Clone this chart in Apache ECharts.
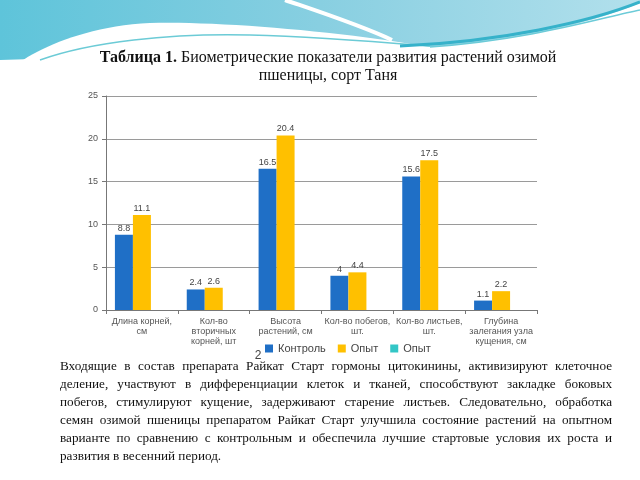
<!DOCTYPE html>
<html><head><meta charset="utf-8">
<script src="https://cdn.jsdelivr.net/npm/echarts@6/dist/echarts.min.js"></script>
<style>html,body{margin:0;padding:0;background:#fff}#c{width:640px;height:480px}</style>
</head><body><div id="c"></div>
<script>
const categories = ['Длина корней,\nсм', 'Кол-во\nвторичных\nкорней, шт', 'Высота\nрастений, см', 'Кол-во побегов,\nшт.', 'Кол-во листьев,\nшт.', 'Глубина\nзалегания узла\nкущения, см'];
const controlValues = [8.8, 2.4, 16.5, 4, 15.6, 1.1];
const opytValues = [11.1, 2.6, 20.4, 4.4, 17.5, 2.2];
const opyt2Values = [];
const seriesNames = ['Контроль', 'Опыт', 'Опыт '];
const yTicks = [0, 5, 10, 15, 20, 25];
const titleLine1Bold = 'Таблица 1.';
const titleLine1 = ' Биометрические показатели развития растений озимой';
const titleLine2 = 'пшеницы, сорт Таня';
const paragraphLines = [
  'Входящие в состав препарата Райкат Старт гормоны цитокинины, активизируют клеточное',
  'деление, участвуют в дифференциации клеток и тканей, способствуют закладке боковых',
  'побегов, стимулируют кущение, задерживают старение листьев. Следовательно, обработка',
  'семян озимой пшеницы препаратом Райкат Старт улучшила состояние растений на опытном',
  'варианте по сравнению с контрольным и обеспечила лучшие стартовые условия их роста и',
  'развития в весенний период.'
];
const pageNumber = '2';

const chart = echarts.init(document.getElementById('c'), null, {renderer: 'canvas'});
const SERIF = '"Liberation Serif", "Times New Roman", serif';
const SANS = '"Liberation Sans", Arial, sans-serif';

// justified paragraph
const mctx = document.createElement('canvas').getContext('2d');
const pFont = 13.2;
mctx.font = pFont + 'px ' + SERIF;
const pLeft = 60, pRight = 612, pTop = 360, pLH = 18;
const paraEls = [];
paragraphLines.forEach((line, i) => {
  const words = line.split(' ');
  const y = pTop + i * pLH;
  const last = i === paragraphLines.length - 1;
  if (last) {
    paraEls.push({type: 'text', x: pLeft, y: y, style: {text: line, font: pFont + 'px ' + SERIF, fill: '#111'}});
    return;
  }
  const widths = words.map(w => mctx.measureText(w).width);
  const total = widths.reduce((a, b) => a + b, 0);
  const gap = (pRight - pLeft - total) / (words.length - 1);
  let x = pLeft;
  words.forEach((w, k) => {
    paraEls.push({type: 'text', x: x, y: y, style: {text: w, font: pFont + 'px ' + SERIF, fill: '#111'}});
    x += widths[k] + gap;
  });
});

// decoration helpers
function bez(p0, c1, c2, p1, n) {
  const pts = [];
  for (let i = 0; i <= n; i++) {
    const t = i / n, u = 1 - t;
    pts.push([
      u*u*u*p0[0] + 3*u*u*t*c1[0] + 3*u*t*t*c2[0] + t*t*t*p1[0],
      u*u*u*p0[1] + 3*u*u*t*c1[1] + 3*u*t*t*c2[1] + t*t*t*p1[1]
    ]);
  }
  return pts;
}
function curve(x1, y1, c1x, c1y, c2x, c2y, x2, y2, color, w) {
  return {type: 'bezierCurve', z: -8, shape: {x1, y1, cpx1: c1x, cpy1: c1y, cpx2: c2x, cpy2: c2y, x2, y2}, style: {fill: null, stroke: color, lineWidth: w}};
}
const bgPts = [[0, 0], [640, 0]].concat(bez([640, 3], [580, 28], [500, 42], [430, 47], 24), [[0, 60]]);
const whitePts = bez([20, 62], [45, 45], [90, 26], [150, 23], 20).concat(bez([150, 23], [220, 21], [350, 32], [440, 49], 24), [[440, 64], [20, 64]]);

const deco = [
  {type: 'polygon', z: -10, shape: {points: bgPts},
   style: {fill: new echarts.graphic.LinearGradient(0, 0, 1, 0, [{offset: 0, color: '#5ec4da'}, {offset: 0.5, color: '#88cfe1'}, {offset: 1, color: '#b2e0ec'}])}},
  {type: 'polygon', z: -9, shape: {points: whitePts}, style: {fill: '#ffffff'}},
  {type: 'rect', z: -9, shape: {x: 0, y: 60, width: 640, height: 6}, style: {fill: '#ffffff'}},
  curve(40, 60, 90, 42, 170, 33, 250, 35, '#6ccbd6', 1.5),
  curve(250, 35, 320, 37, 380, 42, 430, 46, '#6ccbd6', 1.5),
  curve(285, 0, 320, 12, 360, 25, 392, 40, '#ffffff', 4),
  curve(400, 46, 500, 42, 590, 22, 640, 2, '#36b2ca', 3),
  curve(430, 47, 530, 40, 600, 18, 640, 10, '#6ccbd8', 1.5)
];

const titleEls = [
  {type: 'text', x: 328, y: 50, style: {
    text: '{b|' + titleLine1Bold + '}{n|' + titleLine1 + '}', textAlign: 'center',
    rich: {b: {font: 'bold 16px ' + SERIF, fill: '#111'}, n: {font: '16px ' + SERIF, fill: '#111'}}}},
  {type: 'text', x: 328, y: 68, style: {text: titleLine2, textAlign: 'center', font: '16px ' + SERIF, fill: '#111'}},
  {type: 'text', x: 258, y: 350, style: {text: pageNumber, textAlign: 'center', font: '12px ' + SANS, fill: '#444'}}
];

const barLabel = {show: true, position: 'top', distance: 2, fontSize: 9, color: '#444', fontFamily: SANS};
chart.setOption({
  animation: false,
  color: ['#1f6fc6', '#ffc000', '#33c6c6'],
  grid: {left: 106, right: 103, top: 96, bottom: 170},
  legend: {
    data: seriesNames, left: 260, top: 338, icon: 'rect', itemWidth: 8, itemHeight: 8, itemGap: 12,
    textStyle: {fontSize: 11, color: '#444', fontFamily: SANS}
  },
  xAxis: {
    type: 'category', data: categories,
    axisLine: {lineStyle: {color: '#777'}},
    axisTick: {show: true, length: 4, lineStyle: {color: '#777'}},
    axisLabel: {interval: 0, fontSize: 9, lineHeight: 10, color: '#555', fontFamily: SANS, margin: 7}
  },
  yAxis: {
    type: 'value', min: yTicks[0], max: yTicks[yTicks.length - 1], interval: 5,
    axisLine: {show: true, lineStyle: {color: '#777'}},
    axisTick: {show: true, length: 4, lineStyle: {color: '#777'}},
    axisLabel: {fontSize: 9, color: '#555', fontFamily: SANS, margin: 8},
    splitLine: {lineStyle: {color: '#9a9a9a'}}
  },
  series: [
    {name: seriesNames[0], type: 'bar', data: controlValues, barWidth: 18, barGap: '0%', label: barLabel},
    {name: seriesNames[1], type: 'bar', data: opytValues, barWidth: 18, barGap: '0%', label: barLabel},
    {name: seriesNames[2], type: 'bar', data: opyt2Values, barWidth: 18, barGap: '0%', label: barLabel}
  ],
  graphic: deco.concat(titleEls, paraEls)
});
</script></body></html>
